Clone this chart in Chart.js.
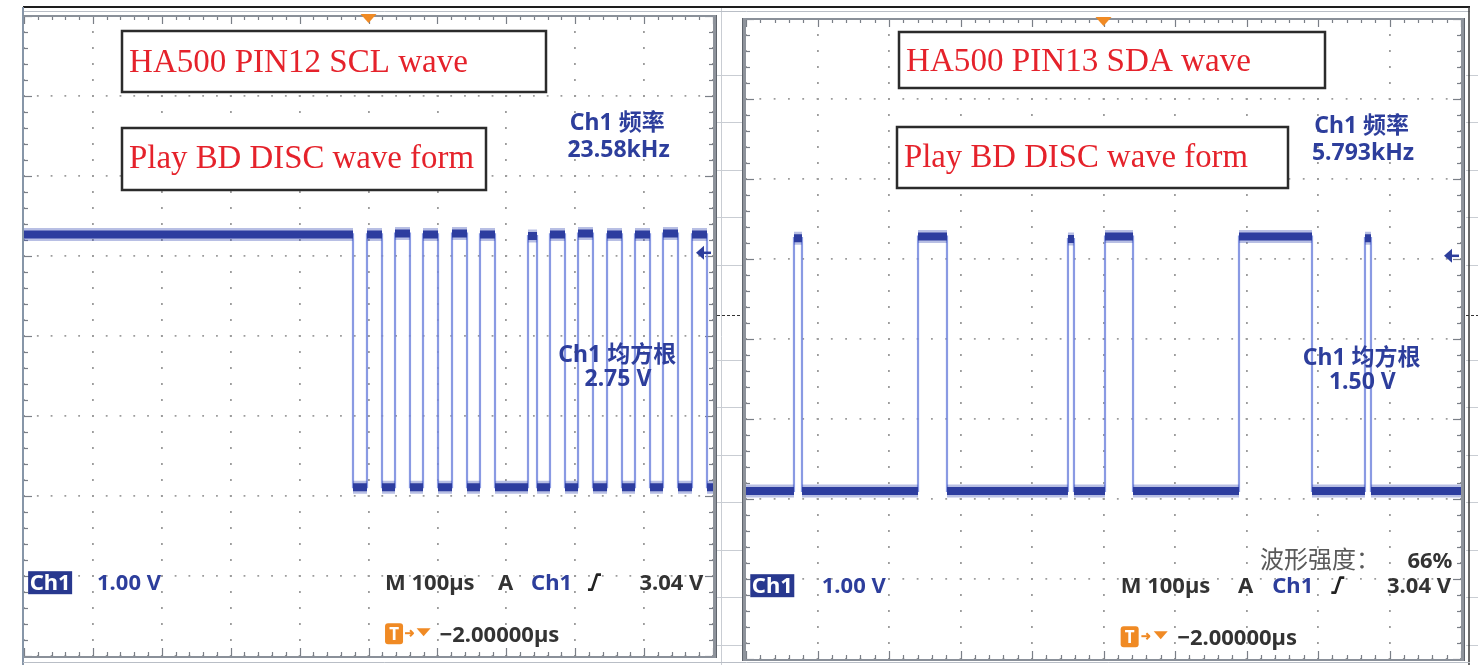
<!DOCTYPE html>
<html>
<head>
<meta charset="utf-8">
<script src="https://cdn.jsdelivr.net/npm/chart.js@4.4.1/dist/chart.umd.min.js"></script>
<style>
  html, body { margin: 0; padding: 0; background: #fff; }
  #wrap { position: relative; width: 1478px; height: 665px; overflow: hidden; background: #fff; }
  #wrap canvas { position: absolute; left: 0; top: 0; }
</style>
</head>
<body>
<div id="wrap">
  <canvas id="sclChart" width="1478" height="665"></canvas>
  <canvas id="sdaChart" width="1478" height="665"></canvas>
</div>
<script>
// ---- scope settings: 100 µs/div over 10 divisions, 1 V/div over 8 divisions (ground 2 div below centre)
const timeRange = [-500, 500];
const timeStep = 100;
const voltRange = [-2, 6];
const voltStep = 1;

// ---- HA500 pin 12 (SCL): start time (µs) of each constant level and the level (V)
const sclStart = [-500, -22.5, -2.2, 19.6, 38.5, 60.2, 79.1, 100.9, 121.2, 143.0, 161.8, 183.6,
                  231.5, 244.6, 263.4, 285.2, 304.1, 325.8, 346.2, 367.9, 386.8, 408.6, 427.4, 449.2, 469.5, 491.3];
const sclLevel = [3.27, 0.11, 3.27, 0.11, 3.28, 0.11, 3.27, 0.11, 3.28, 0.11, 3.27, 0.11,
                  3.25, 0.11, 3.27, 0.11, 3.28, 0.11, 3.27, 0.11, 3.27, 0.11, 3.28, 0.11, 3.27, 0.11];

// ---- HA500 pin 13 (SDA)
const sdaStart = [-500, -432.9, -421.7, -259.4, -218.9, -49.7, -41.3, 2.1, 41.3, 189.5, 291.6, 365.7, 374.1];
const sdaLevel = [0.10, 3.26, 0.10, 3.28, 0.10, 3.25, 0.10, 3.28, 0.10, 3.28, 0.10, 3.26, 0.10];

// ---- readouts
const sclTitle = 'HA500 PIN12 SCL wave';
const sdaTitle = 'HA500 PIN13 SDA wave';
const subTitle = 'Play BD DISC wave form';
const sclFreq = '23.58kHz';
const sdaFreq = '5.793kHz';
const sclRms = '2.75 V';
const sdaRms = '1.50 V';
const voltsPerDiv = '1.00 V';
const timePerDiv = 'M 100µs';
const triggerLevel = 3.04;
const triggerLevelText = '3.04 V';
const horizPosition = '−2.00000µs';
const intensity = '66%';

// ---- page layout (pixels)
const PAGE_W = 1478, PAGE_H = 665;
const sclArea = { left: 24, top: 16, right: 713, bottom: 656 };
const sdaArea = { left: 746, top: 19, right: 1461, bottom: 659 };

const BLUE = '#2d3e9c';
const DARK = '#333333';
const ORANGE = '#f08a24';
const READ_FONT = '"Noto Sans", "Noto Sans CJK SC", sans-serif';

function levelSegments(starts, levels, end) {
  const steps = [];
  const flats = [];
  starts.forEach((t, i) => {
    const t1 = i + 1 < starts.length ? starts[i + 1] : end;
    steps.push({ x: t, y: levels[i] }, { x: t1, y: levels[i] });
    flats.push({ x: t, y: levels[i] }, { x: t1, y: levels[i] }, { x: t1, y: null });
  });
  return { steps, flats };
}

// spreadsheet-like backdrop the two screens sit on
const backdrop = {
  id: 'backdrop',
  beforeDraw(chart) {
    const ctx = chart.ctx;
    ctx.save();
    ctx.fillStyle = '#ffffff';
    ctx.fillRect(0, 0, PAGE_W, PAGE_H);
    // cell lines between and beside the screens
    ctx.strokeStyle = '#c9cdd3';
    ctx.lineWidth = 1;
    const rows = [75, 122, 170, 217, 265, 360, 407, 455, 502, 550, 597, 645];
    rows.forEach(y => {
      ctx.beginPath(); ctx.moveTo(717, y + 0.5); ctx.lineTo(742, y + 0.5); ctx.stroke();
      ctx.beginPath(); ctx.moveTo(1466, y + 0.5); ctx.lineTo(1478, y + 0.5); ctx.stroke();
    });
    ctx.beginPath(); ctx.moveTo(721.5, 8); ctx.lineTo(721.5, 665); ctx.stroke();
    ctx.strokeStyle = '#333';
    ctx.setLineDash([3, 2]);
    ctx.beginPath(); ctx.moveTo(717, 315.5); ctx.lineTo(742, 315.5); ctx.stroke();
    ctx.beginPath(); ctx.moveTo(1466, 315.5); ctx.lineTo(1478, 315.5); ctx.stroke();
    ctx.setLineDash([]);
    // top rule
    ctx.strokeStyle = '#1e1e1e';
    ctx.lineWidth = 2;
    ctx.beginPath(); ctx.moveTo(23, 7); ctx.lineTo(1470, 7); ctx.stroke();
    ctx.strokeStyle = '#b9bec6';
    ctx.lineWidth = 1;
    ctx.beginPath(); ctx.moveTo(23, 11.5); ctx.lineTo(1470, 11.5); ctx.stroke();
    // outer left and right rules
    ctx.strokeStyle = '#8796a8';
    ctx.lineWidth = 2;
    ctx.beginPath(); ctx.moveTo(23, 7); ctx.lineTo(23, 665); ctx.stroke();
    ctx.strokeStyle = '#3a3a3a';
    ctx.lineWidth = 1.5;
    ctx.beginPath(); ctx.moveTo(1469, 7); ctx.lineTo(1469, 665); ctx.stroke();
    ctx.strokeStyle = '#b9bec6';
    ctx.lineWidth = 1;
    ctx.beginPath(); ctx.moveTo(23, 662.5); ctx.lineTo(1470, 662.5); ctx.stroke();
    ctx.restore();
  }
};

function divX(a, d) { return a.left + d * (a.right - a.left) / 10; }
function divY(a, d) { return a.top + d * (a.bottom - a.top) / 8; }

function drawFrame(ctx, a, thickLeft) {
  ctx.save();
  const w = a.right - a.left, h = a.bottom - a.top;
  // inward tick marks, five per division
  ctx.strokeStyle = '#7a7f87';
  ctx.lineWidth = 1.2;
  for (let i = 0; i <= 50; i++) {
    const x = Math.round(a.left + i * w / 50) + 0.5;
    const len = i % 5 === 0 ? 8 : 4;
    ctx.beginPath(); ctx.moveTo(x, a.top); ctx.lineTo(x, a.top + len); ctx.stroke();
    ctx.beginPath(); ctx.moveTo(x, a.bottom); ctx.lineTo(x, a.bottom - len); ctx.stroke();
  }
  for (let i = 0; i <= 40; i++) {
    const y = Math.round(a.top + i * h / 40) + 0.5;
    const len = i % 5 === 0 ? 8 : 4;
    ctx.beginPath(); ctx.moveTo(a.left, y); ctx.lineTo(a.left + len, y); ctx.stroke();
    ctx.beginPath(); ctx.moveTo(a.right, y); ctx.lineTo(a.right - len, y); ctx.stroke();
  }
  // border
  ctx.strokeStyle = '#8a9099';
  ctx.lineWidth = 2;
  ctx.beginPath(); ctx.moveTo(a.left - 1, a.top); ctx.lineTo(a.right + 1, a.top); ctx.stroke();
  ctx.beginPath(); ctx.moveTo(a.left - 1, a.bottom + 1); ctx.lineTo(a.right + 1, a.bottom + 1); ctx.stroke();
  ctx.fillStyle = '#8e939b';
  ctx.fillRect(a.right, a.top - 1, 4, h + 3);
  ctx.fillStyle = '#5f646c';
  ctx.fillRect(a.right + 3, a.top - 1, 1, h + 3);
  if (thickLeft) {
    ctx.fillStyle = '#8e939b';
    ctx.fillRect(a.left - 4, a.top - 1, 4, h + 3);
    ctx.fillStyle = '#5f646c';
    ctx.fillRect(a.left - 4, a.top - 1, 1, h + 3);
  } else {
    ctx.strokeStyle = '#8796a8';
    ctx.beginPath(); ctx.moveTo(a.left - 1, a.top); ctx.lineTo(a.left - 1, a.bottom + 2); ctx.stroke();
  }
  ctx.restore();
}

function drawTitleBox(ctx, box, text, tx, ty, width) {
  ctx.save();
  ctx.fillStyle = '#ffffff';
  ctx.fillRect(box.x, box.y, box.w, box.h);
  ctx.strokeStyle = '#2b2b2b';
  ctx.lineWidth = 2.5;
  ctx.strokeRect(box.x, box.y, box.w, box.h);
  ctx.font = '34px "Liberation Serif", serif';
  ctx.fillStyle = '#e5222b';
  ctx.textBaseline = 'alphabetic';
  const m = ctx.measureText(text).width;
  ctx.translate(tx, ty);
  ctx.scale(width / m, 1);
  ctx.fillText(text, 0, 0);
  ctx.restore();
}

function text(ctx, s, x, y, opts) {
  ctx.font = (opts.weight || 'bold') + ' ' + (opts.size || 22) + 'px ' + READ_FONT;
  ctx.fillStyle = opts.color || DARK;
  ctx.textAlign = opts.align || 'left';
  ctx.textBaseline = 'alphabetic';
  ctx.fillText(s, x, y);
}

function makeReadouts(info) {
  return {
    id: 'readouts',
    beforeDatasetsDraw(chart) {
      const ctx = chart.ctx;
      const a = chart.chartArea;
      drawFrame(ctx, a, info.thickLeft);
      info.titles.forEach(t => drawTitleBox(ctx, t.box, t.text, t.x, t.y, t.width));
    },
    afterDatasetsDraw(chart) {
      const ctx = chart.ctx;
      const a = chart.chartArea;
      const xs = chart.scales.x, ys = chart.scales.y;
      ctx.save();
      // measurement readouts
      text(ctx, 'Ch1 频率', divX(a, 8.61), divY(a, 1.43), { color: BLUE, align: 'center', size: 23 });
      text(ctx, info.freq, divX(a, 8.63), divY(a, 1.76), { color: BLUE, align: 'center', size: 23 });
      text(ctx, 'Ch1 均方根', divX(a, 8.61), divY(a, 4.325), { color: BLUE, align: 'center', size: 23 });
      text(ctx, info.rms, divX(a, 8.62), divY(a, 4.62), { color: BLUE, align: 'center', size: 23 });
      // channel scale
      const bx = divX(a, 0.06), by = divY(a, 6.94);
      ctx.fillStyle = '#28388f';
      ctx.fillRect(bx, by, 44, 23);
      text(ctx, 'Ch1', bx + 22, by + 19, { color: '#ffffff', align: 'center' });
      text(ctx, voltsPerDiv, divX(a, 1.06), divY(a, 7.17), { color: BLUE });
      // timebase and trigger
      text(ctx, timePerDiv, divX(a, 5.24), divY(a, 7.17), { color: DARK });
      text(ctx, 'A', divX(a, 6.88), divY(a, 7.17), { color: DARK });
      text(ctx, 'Ch1', divX(a, 7.36), divY(a, 7.17), { color: BLUE });
      const sx = divX(a, 8.2), sy = divY(a, 7.17);
      ctx.strokeStyle = '#222'; ctx.lineWidth = 2.6; ctx.lineJoin = 'round';
      ctx.beginPath();
      ctx.moveTo(sx - 1, sy); ctx.lineTo(sx + 3, sy); ctx.lineTo(sx + 8, sy - 15); ctx.lineTo(sx + 12, sy - 15);
      ctx.stroke();
      text(ctx, triggerLevelText, divX(a, 9.86), divY(a, 7.17), { color: DARK, align: 'right' });
      if (info.intensity) {
        text(ctx, '波形强度：', divX(a, 7.19), divY(a, 6.86), { color: '#5a5a5a', weight: 'normal', size: 24 });
        text(ctx, info.intensity, divX(a, 9.88), divY(a, 6.86), { color: DARK, align: 'right' });
      }
      // horizontal position readout
      const tx = divX(a, 5.24), ty = divY(a, 7.59);
      ctx.fillStyle = ORANGE;
      ctx.beginPath(); ctx.roundRect(tx, ty, 18, 21, 3); ctx.fill();
      text(ctx, 'T', tx + 9, ty + 17, { color: '#ffffff', align: 'center', size: 17 });
      const ax = divX(a, 5.53), ay = ty + 10;
      ctx.strokeStyle = ORANGE; ctx.fillStyle = ORANGE; ctx.lineWidth = 2;
      ctx.beginPath(); ctx.moveTo(ax, ay); ctx.lineTo(ax + 8, ay); ctx.stroke();
      ctx.beginPath(); ctx.moveTo(ax + 5, ay - 3); ctx.lineTo(ax + 8, ay); ctx.lineTo(ax + 5, ay + 3); ctx.stroke();
      const vx = divX(a, 5.8);
      ctx.beginPath(); ctx.moveTo(vx - 7, ay - 5); ctx.lineTo(vx + 7, ay - 5); ctx.lineTo(vx, ay + 3); ctx.closePath(); ctx.fill();
      text(ctx, horizPosition, divX(a, 6.03), divY(a, 7.82), { color: DARK });
      // trigger point marker (top) and trigger level marker (right edge)
      const mx = xs.getPixelForValue(0);
      ctx.fillStyle = ORANGE;
      ctx.beginPath(); ctx.moveTo(mx - 8, a.top - 2); ctx.lineTo(mx + 8, a.top - 2); ctx.lineTo(mx, a.top + 7); ctx.closePath(); ctx.fill();
      const ly = ys.getPixelForValue(triggerLevel);
      const rx = a.right - 17;
      ctx.fillStyle = BLUE; ctx.strokeStyle = BLUE; ctx.lineWidth = 2.5;
      ctx.beginPath(); ctx.moveTo(rx, ly); ctx.lineTo(rx + 8, ly - 7); ctx.lineTo(rx + 8, ly + 7); ctx.closePath(); ctx.fill();
      ctx.beginPath(); ctx.moveTo(rx + 6, ly); ctx.lineTo(rx + 15, ly); ctx.stroke();
      ctx.restore();
    }
  };
}

function buildScope(canvasId, area, starts, levels, info) {
  const seg = levelSegments(starts, levels, timeRange[1]);
  const w = area.right - area.left, h = area.bottom - area.top;
  return new Chart(document.getElementById(canvasId), {
    type: 'line',
    data: {
      datasets: [
        { label: 'level', data: seg.flats, borderColor: '#2d3d9f', borderWidth: 8, order: 0, borderCapStyle: 'butt' },
        { label: 'level halo', data: seg.flats, borderColor: 'rgba(52, 72, 178, 0.35)', borderWidth: 13, order: 1 },
        { label: 'trace', data: seg.steps, borderColor: 'rgba(118, 136, 222, 0.85)', borderWidth: 2.2, order: 2 }
      ]
    },
    options: {
      responsive: false,
      animation: false,
      devicePixelRatio: 1,
      events: [],
      spanGaps: false,
      layout: { padding: { left: area.left, top: area.top, right: PAGE_W - area.right, bottom: PAGE_H - area.bottom } },
      elements: { point: { radius: 0 }, line: { tension: 0, fill: false } },
      plugins: { legend: { display: false }, tooltip: { enabled: false } },
      scales: {
        x: {
          type: 'linear', min: timeRange[0], max: timeRange[1],
          ticks: { stepSize: timeStep, display: false },
          grid: { color: '#9c9c9c', lineWidth: 1.8, drawTicks: false },
          border: { display: false, dash: [1.8, h / 40 - 1.8], dashOffset: 0.9 }
        },
        y: {
          type: 'linear', min: voltRange[0], max: voltRange[1],
          ticks: { stepSize: voltStep, display: false },
          grid: { color: '#9c9c9c', lineWidth: 1.8, drawTicks: false },
          border: { display: false, dash: [1.8, w / 50 - 1.8], dashOffset: 0.9 }
        }
      }
    },
    plugins: info.backdrop ? [backdrop, makeReadouts(info)] : [makeReadouts(info)]
  });
}

buildScope('sclChart', sclArea, sclStart, sclLevel, {
  backdrop: true, thickLeft: false, freq: sclFreq, rms: sclRms, intensity: null,
  titles: [
    { box: { x: 122, y: 31, w: 424, h: 61 }, text: sclTitle, x: 129, y: 72, width: 339 },
    { box: { x: 122, y: 128, w: 364, h: 62 }, text: subTitle, x: 129, y: 168, width: 345 }
  ]
});
buildScope('sdaChart', sdaArea, sdaStart, sdaLevel, {
  backdrop: false, thickLeft: true, freq: sdaFreq, rms: sdaRms, intensity: intensity,
  titles: [
    { box: { x: 899, y: 32, w: 426, h: 56 }, text: sdaTitle, x: 906, y: 71, width: 345 },
    { box: { x: 897, y: 127, w: 391, h: 61 }, text: subTitle, x: 904, y: 167, width: 344 }
  ]
});
</script>
</body>
</html>
